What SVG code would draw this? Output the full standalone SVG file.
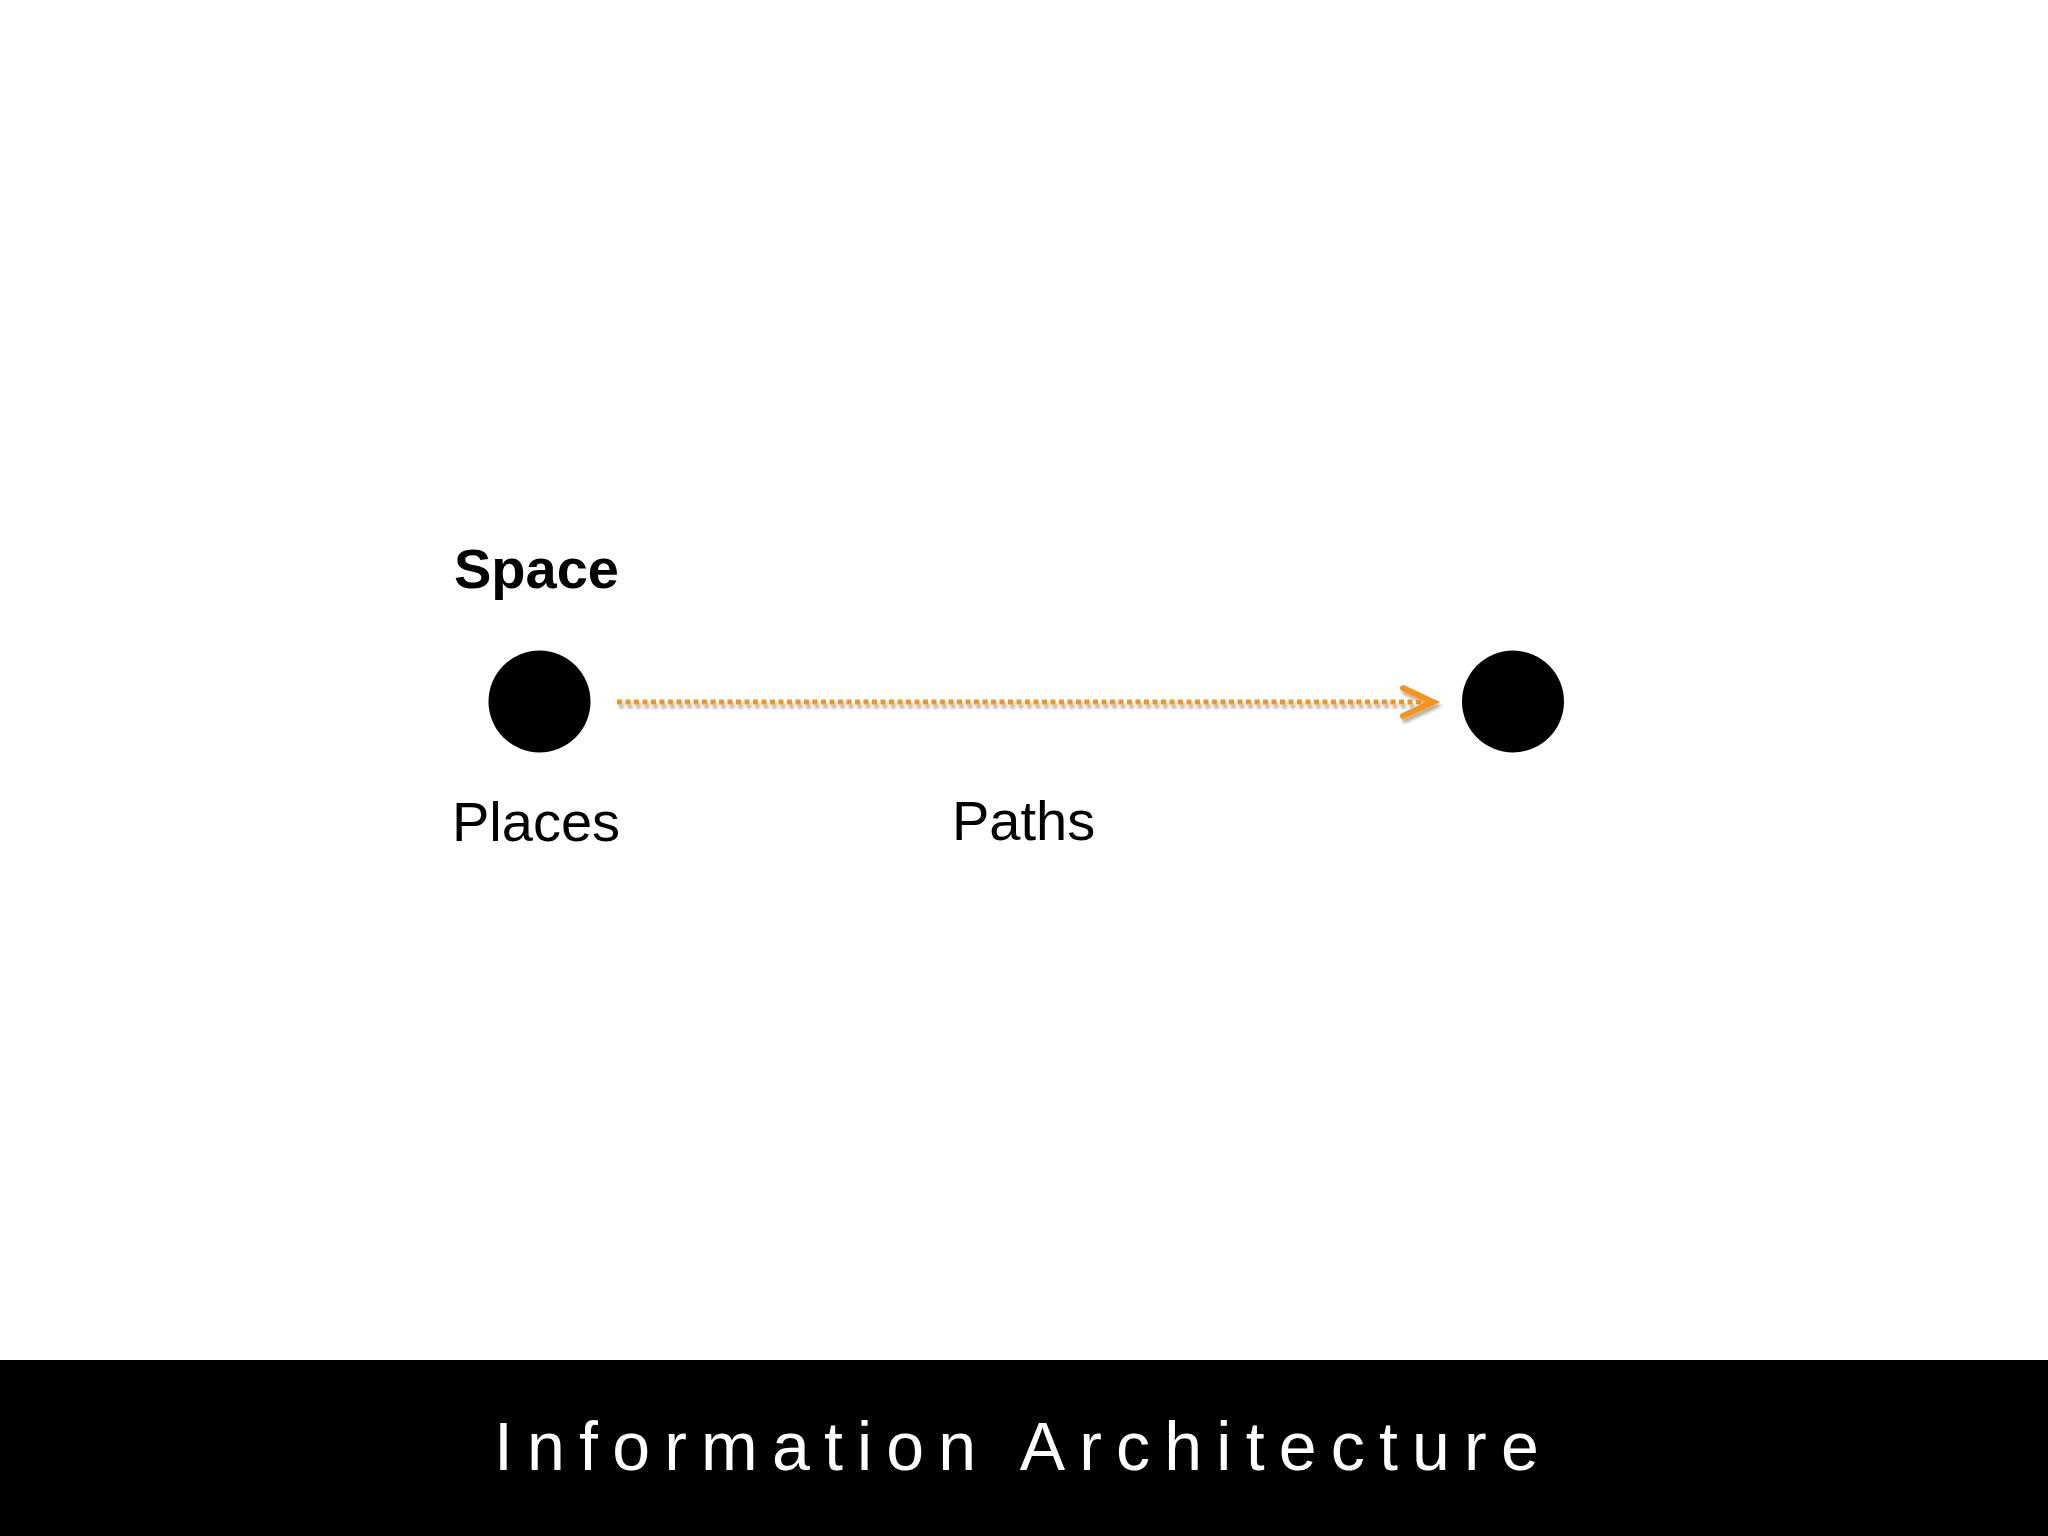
<svg xmlns="http://www.w3.org/2000/svg" width="2048" height="1536" viewBox="0 0 2048 1536">
  <style>
    .label { font-family: "Liberation Sans", Arial, sans-serif; fill: #000; font-size: 56px; }
    .bold { font-weight: bold; }
    .title { font-family: "Liberation Sans", Arial, sans-serif; fill: #fff; font-size: 68px; letter-spacing: 14.2px; }
    .node { fill: #000; }
    .path { stroke: #F7941D; fill: none; }
  </style>
  <defs>
    <filter id="shadow" x="-5%" y="-100%" width="110%" height="400%">
      <feGaussianBlur in="SourceAlpha" stdDeviation="1.5"/>
      <feOffset dx="2" dy="4" result="b"/>
      <feComponentTransfer><feFuncA type="linear" slope="0.3"/></feComponentTransfer>
      <feMerge><feMergeNode/><feMergeNode in="SourceGraphic"/></feMerge>
    </filter>
  </defs>
  <rect width="2048" height="1536" fill="#fff"/>
  <text class="label bold" x="454" y="588">Space</text>
  <g id="place-1">
    <circle class="node" cx="539.5" cy="701.5" r="51"/>
    <text class="label" x="452" y="841">Places</text>
  </g>
  <g id="place-2">
    <circle class="node" cx="1513" cy="701.5" r="51"/>
  </g>
  <g id="connectors" filter="url(#shadow)">
    <line class="path" x1="617" y1="702" x2="1428" y2="702" stroke-width="5" stroke-dasharray="5 3.5"/>
    <polyline class="path" points="1403,688 1433,702 1403,716" stroke-width="6" stroke-linecap="round" stroke-linejoin="miter"/>
  </g>
  <text class="label" x="952" y="840">Paths</text>
  <g id="footer">
    <rect x="0" y="1360" width="2048" height="176" fill="#000"/>
    <text class="title" x="494" y="1470">Information Architecture</text>
  </g>
</svg>
